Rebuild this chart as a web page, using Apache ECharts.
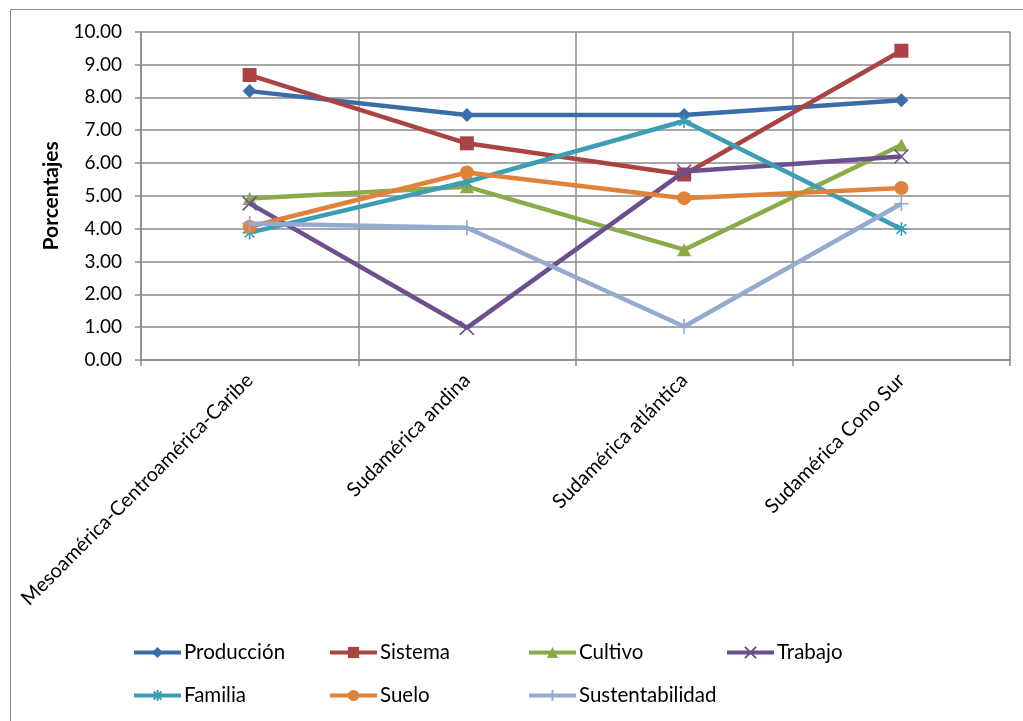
<!DOCTYPE html>
<html>
<head>
<meta charset="utf-8">
<script src="https://cdn.jsdelivr.net/npm/echarts@6/dist/echarts.min.js"></script>
<style>
html,body{margin:0;padding:0;background:#fff;}
#c{width:1023px;height:721px;}
</style>
</head>
<body>
<div id="c"></div>
<script>
const categories = ['Mesoamérica-Centroamérica-Caribe', 'Sudamérica andina', 'Sudamérica atlántica', 'Sudamérica Cono Sur'];
const produccion = [8.19, 7.46, 7.46, 7.91];
const sistema = [8.68, 6.60, 5.65, 9.42];
const cultivo = [4.92, 5.28, 3.36, 6.55];
const trabajo = [4.77, 0.98, 5.74, 6.20];
const familia = [3.88, 5.43, 7.28, 3.99];
const suelo = [4.06, 5.71, 4.93, 5.24];
const sustentabilidad = [4.16, 4.03, 1.02, 4.76];
const yTicks = [0, 1, 2, 3, 4, 5, 6, 7, 8, 9, 10];

const seriesNames = ['Producción', 'Sistema', 'Cultivo', 'Trabajo', 'Familia', 'Suelo', 'Sustentabilidad'];
const seriesData = [produccion, sistema, cultivo, trabajo, familia, suelo, sustentabilidad];
const colors = ['#3A6DA8', '#AA4442', '#8BAA4A', '#6C4F8F', '#3C9DB4', '#E0823A', '#94AAD0'];
const xPath = 'path://M0,0L10,10M10,0L0,10';
const starPath = 'path://M5,0L5,10M0,5L10,5M1.5,1.5L8.5,8.5M8.5,1.5L1.5,8.5';
const plusPath = 'path://M5,0L5,10M0,5L10,5';
const symbols = ['diamond', 'rect', 'triangle', xPath, starPath, 'circle', plusPath];
const sizes = [[14, 14], [14, 14], [14, 13], [14, 14], [14, 14], [14, 14], [15, 15]];
const stroked = [false, false, false, true, true, false, true];
const FONT = 'Lato, "Open Sans", sans-serif';

const chart = echarts.init(document.getElementById('c'));

const series = seriesNames.map((n, i) => ({
  name: n,
  type: 'line',
  data: seriesData[i],
  symbol: symbols[i],
  symbolSize: sizes[i],
  showAllSymbol: true,
  lineStyle: { color: colors[i], width: 4.5 },
  itemStyle: stroked[i]
    ? { color: colors[i], borderColor: colors[i], borderWidth: 1.6 }
    : { color: colors[i] },
  emphasis: { disabled: true },
  animation: false,
  z: 2 + i
}));

const legendPos = [
  [132, 642], [328, 642], [527, 642], [725, 642],
  [132, 685], [328, 685], [527, 685]
];
const legends = seriesNames.map((n, i) => ({
  data: [n],
  left: legendPos[i][0],
  top: legendPos[i][1],
  itemWidth: 47,
  itemHeight: 14,
  itemGap: 0,
  padding: 0,
  lineStyle: { width: 4 },
  textStyle: { fontFamily: FONT, fontSize: 20.5, color: '#000', padding: [0, 0, 0, -2] },
  selectedMode: false
}));

chart.setOption({
  animation: false,
  backgroundColor: '#fff',
  graphic: [{
    type: 'rect',
    left: 8, top: 7,
    shape: { width: 1200, height: 900 },
    style: { fill: 'none', stroke: '#8a8a8a', lineWidth: 1 },
    silent: true
  }],
  legend: legends,
  grid: { left: 141, right: 13, top: 31.7, bottom: 361, containLabel: false },
  xAxis: {
    type: 'category',
    data: categories,
    boundaryGap: true,
    axisLine: { lineStyle: { color: '#8a8a8a', width: 1.5 } },
    axisTick: { show: true, length: 6, lineStyle: { color: '#8a8a8a', width: 1.5 } },
    splitLine: { show: true, lineStyle: { color: '#8a8a8a', width: 1.5 } },
    axisLabel: {
      rotate: 45,
      margin: 17,
      fontFamily: FONT,
      fontSize: 20,
      color: '#000',
      interval: 0
    }
  },
  yAxis: {
    type: 'value',
    min: 0, max: 10, interval: 1,
    name: 'Porcentajes',
    nameLocation: 'middle',
    nameGap: 79,
    nameRotate: 90,
    nameTextStyle: { fontFamily: FONT, fontSize: 21, fontWeight: 'bold', color: '#000' },
    axisLine: { show: true, lineStyle: { color: '#8a8a8a', width: 1.5 } },
    axisTick: { show: true, length: 6, lineStyle: { color: '#8a8a8a', width: 1.5 } },
    splitLine: { show: true, lineStyle: { color: '#8a8a8a', width: 1.5 } },
    axisLabel: {
      margin: 19,
      fontFamily: FONT,
      fontSize: 19,
      color: '#000',
      formatter: v => yTicks.includes(v) ? v.toFixed(2) : ''
    }
  },
  series: series
});
</script>
</body>
</html>
